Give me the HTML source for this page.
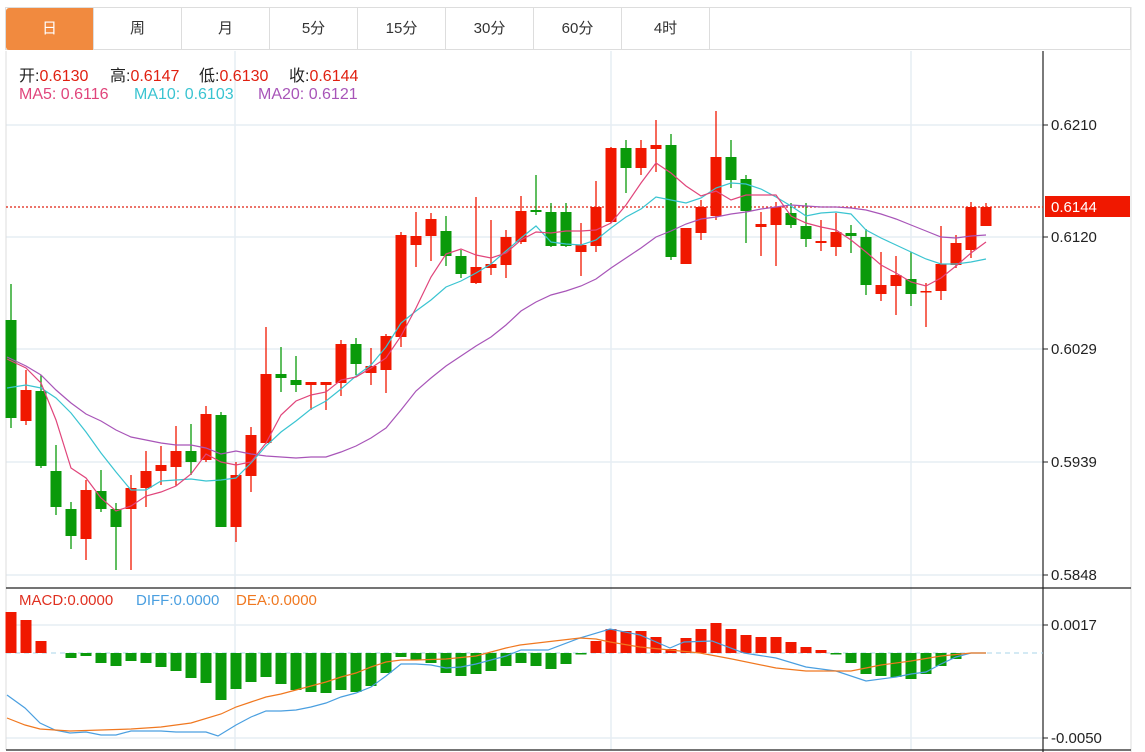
<!DOCTYPE html>
<html><head><meta charset="utf-8"><style>
html,body{margin:0;padding:0;background:#fff;width:1145px;height:752px;overflow:hidden}
body{font-family:"Liberation Sans","Noto Sans CJK SC",sans-serif}
.tabs{position:absolute;left:5px;top:7px;height:43px;width:1126px;border:1px solid #ddd;box-sizing:border-box;display:flex}
.tab{width:88px;height:42px;line-height:42px;text-align:center;font-size:15px;color:#333;border-right:1px solid #ddd;box-sizing:border-box}
.tab.on{background:#f18a3f;color:#fff;border-radius:3px 0 0 3px}
svg{position:absolute;left:0;top:0}
.i{position:absolute;font-size:16px;white-space:pre}
.r{color:#e02010}
</style></head><body>
<div class="tabs"><div class="tab on">日</div><div class="tab">周</div><div class="tab">月</div><div class="tab">5分</div><div class="tab">15分</div><div class="tab">30分</div><div class="tab">60分</div><div class="tab">4时</div></div>
<svg id="s" width="1145" height="752" xmlns="http://www.w3.org/2000/svg"></svg>
<div class="i" style="top:62px;left:19px;color:#222">开:<span class="r">0.6130</span></div>
<div class="i" style="top:62px;left:110px;color:#222">高:<span class="r">0.6147</span></div>
<div class="i" style="top:62px;left:199px;color:#222">低:<span class="r">0.6130</span></div>
<div class="i" style="top:62px;left:289px;color:#222">收:<span class="r">0.6144</span></div>
<div class="i" style="top:86px;left:19px;color:#e0457b">MA5: 0.6116</div>
<div class="i" style="top:86px;left:134px;color:#3ac4d1">MA10: 0.6103</div>
<div class="i" style="top:86px;left:258px;color:#a855b8">MA20: 0.6121</div>
<div class="i" style="top:592px;left:19px;font-size:15px;color:#e03020">MACD:0.0000</div>
<div class="i" style="top:592px;left:136px;font-size:15px;color:#4a9fe0">DIFF:0.0000</div>
<div class="i" style="top:592px;left:236px;font-size:15px;color:#f07820">DEA:0.0000</div>
<script>
var s=document.getElementById('s'),h='';
function L(x1,y1,x2,y2,c,w,d){h+='<line x1="'+x1+'" y1="'+y1+'" x2="'+x2+'" y2="'+y2+'" stroke="'+c+'" stroke-width="'+(w||1)+'"'+(d?' stroke-dasharray="'+d+'"':'')+'/>';}
function R(x,y,w,hh,c){h+='<rect x="'+x+'" y="'+y+'" width="'+w+'" height="'+Math.max(hh,1.5)+'" fill="'+c+'"/>';}
function P(pts,c){var xs=[];for(var i=0;i<pts.length;i+=2)xs.push(pts[i]+','+pts[i+1]);h+='<polyline points="'+xs.join(' ')+'" fill="none" stroke="'+c+'" stroke-width="1.2"/>';}
function T(x,y,t,c){h+='<text x="'+x+'" y="'+y+'" font-size="15" fill="'+(c||'#222')+'" font-family="Liberation Sans,sans-serif">'+t+'</text>';}
var g='#e6edf3';
[125,237,349,462,575,625,738].forEach(function(y){L(6,y,1043,y,g,1.5)});
[235,611,911].forEach(function(x){L(x,51,x,750,g,1.5)});
L(1131,7,1131,752,'#ddd',1);L(6,51,6,750,'#ddd',1);
L(1043,51,1043,752,'#222',1.2);L(6,588,1131,588,'#222',1.2);L(6,750,1131,750,'#222',1.2);
[[125,'0.6210'],[237,'0.6120'],[349,'0.6029'],[462,'0.5939'],[575,'0.5848'],[625,'0.0017'],[738,'-0.0050']].forEach(function(a){L(1043,a[0],1048,a[0],'#222');T(1051,a[0]+5,a[1]);});
L(6,207,1043,207,'#e02010',1.2,'2,2');
R(1045,196,85,21,'#f01800');T(1051,212,'0.6144','#fff');
var C=[[320,418,284,428,0],[390,421,370,425,1],[391,466,375,468,0],[471,507,445,515,0],[509,536,502,549,0],[490,539,480,560,1],[491,509,470,512,0],[509,527,503,570,0],[488,509,475,570,1],[471,488,451,507,1],[465,471,446,485,1],[451,467,426,486,1],[451,462,424,475,0],[414,460,406,462,1],[415,527,412,527,0],[475,527,462,542,1],[435,476,427,492,1],[374,443,327,444,1],[374,378,347,392,0],[380,385,356,392,0],[382,385,382,410,1],[382,385,382,410,1],[344,383,340,396,1],[344,364,338,375,0],[366,373,348,385,1],[336,370,334,393,1],[235,337,232,347,1],[236,245,212,267,1],[219,236,213,261,1],[231,256,216,266,0],[256,274,250,278,0],[267,283,197,284,1],[264,268,220,275,1],[237,265,230,278,1],[211,242,196,244,1],[210,212,175,215,0],[212,246,203,247,0],[212,246,203,247,0],[245,252,223,276,1],[207,246,181,252,1],[148,222,147,223,1],[148,168,140,193,0],[148,168,140,175,1],[145,149,120,172,1],[145,257,134,260,0],[228,264,228,264,1],[207,233,200,240,1],[157,216,111,220,1],[157,180,140,188,0],[179,211,175,243,0],[224,227,212,256,1],[207,225,202,266,1],[213,225,203,228,0],[226,239,203,247,0],[241,243,220,251,1],[232,247,213,256,1],[233,236,225,253,0],[237,285,229,295,0],[285,294,252,301,1],[275,286,256,315,1],[279,294,252,306,0],[291,292,283,327,1],[264,291,226,300,1],[243,265,235,268,1],[207,250,202,258,1],[207,226,203,226,1]];
function X(i){return 11+i*15.0};
C.forEach(function(c,i){var col=c[4]?'#f01800':'#0a9a0a',x=X(i);L(x,c[2],x,c[3],col,1.3);R(x-5.5,c[0],11,c[1]-c[0],col);});
var ma5=[359,368,383,420,468,478,498,511,506,496,492,486,474,454,462,465,462,443,415,401,395,392,380,377,368,358,336,308,277,254,249,255,258,253,240,232,233,231,231,230,223,205,183,163,173,186,196,191,200,195,195,195,216,223,227,230,240,252,265,273,282,286,278,266,253,242];
var ma10=[388,385,388,398,413,432,453,472,490,490,481,480,479,481,480,478,463,446,432,421,409,401,389,376,365,347,323,311,300,287,281,273,264,251,238,226,242,244,245,240,228,217,209,197,200,203,198,188,183,184,189,197,206,216,213,212,214,230,238,245,252,259,264,264,262,259];
var ma20=[357,366,375,390,403,414,421,430,437,440,443,445,445,448,454,451,454,456,457,458,457,457,452,446,438,428,410,391,378,366,356,346,337,325,311,302,295,291,286,279,268,258,248,237,231,224,219,217,214,212,209,207,205,206,207,207,208,210,214,219,225,231,237,238,236,235];
function MP(a,c){var p=[];a.forEach(function(y,i){p.push(i==0?7:X(i),y)});P(p,c);}
MP(ma20,'#a855b8');MP(ma10,'#3ac4d1');MP(ma5,'#e0457b');
L(6,653,1043,653,'#a8d4ea',1,'5,4');
var M=[612,620,641,653,658,656,663,666,661,663,667,671,678,683,700,689,682,677,684,690,692,693,690,692,686,673,657,660,663,673,676,674,671,666,663,666,669,664,654,641,629,631,631,637,649,638,629,623,629,635,637,637,642,647,650,654,663,674,676,677,679,674,666,659,653,653];
M.forEach(function(y,i){if(y==653)return;var x=X(i);if(y<653)R(x-5.5,y,11,653-y,'#f01800');else R(x-5.5,653,11,y-653,'#0a9a0a');});
P([7,695,25,708,40,723,55,730,70,733,86,732,101,735,116,735,131,731,146,731,161,731,176,732,191,732,206,732,218,736,236,725,251,717,266,711,281,711,296,710,311,707,326,703,341,697,356,693,371,687,386,676,401,664,416,664,431,665,446,668,461,667,476,664,491,660,506,656,521,650,548,650,580,638,610,629,640,635,670,648,684,642,712,641,744,653,776,658,806,667,836,671,866,681,896,677,911,674,926,672,941,664,956,657,971,653,986,653],'#4a9fe0');
P([7,718,25,725,40,729,55,730,70,731,101,730,131,729,161,727,191,723,221,714,236,707,251,702,266,697,281,694,296,690,311,686,326,682,341,677,356,673,371,667,386,662,401,660,416,660,446,659,476,656,506,648,520,645,580,638,596,639,610,642,640,647,670,650,700,653,732,659,776,668,806,671,851,671,881,665,911,661,941,656,971,653,986,653],'#f07820');
s.innerHTML=h;
</script>
</body></html>
